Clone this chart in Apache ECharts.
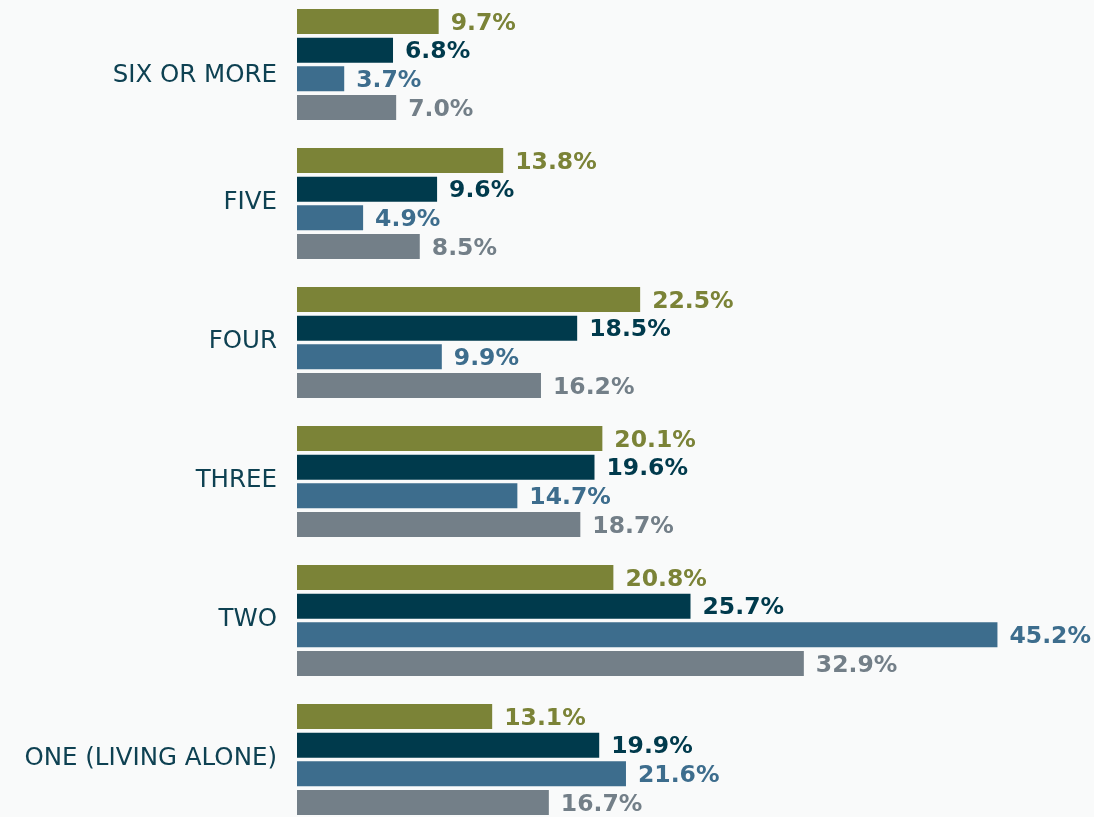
<!DOCTYPE html>
<html>
<head>
<meta charset="utf-8">
<script src="https://cdn.jsdelivr.net/npm/echarts@6/dist/echarts.min.js"></script>
<style>
html,body{margin:0;padding:0;background:#f9fafa;overflow:hidden;width:1094px;height:817px;}
#chart{position:absolute;left:0;top:-5px;width:1094px;height:834px;}
</style>
</head>
<body>
<div id="chart"></div>
<script>
// categories listed top to bottom
var categories = ['SIX OR MORE', 'FIVE', 'FOUR', 'THREE', 'TWO', 'ONE (LIVING ALONE)'];
var seriesA = [9.7, 13.8, 22.5, 20.1, 20.8, 13.1];   // olive
var seriesB = [6.8, 9.6, 18.5, 19.6, 25.7, 19.9];    // navy
var seriesC = [3.7, 4.9, 9.9, 14.7, 45.2, 21.6];     // blue
var seriesD = [7.0, 8.5, 16.2, 18.7, 32.9, 16.7];    // gray
var colors = ['#7b8337', '#003a4c', '#3d6d8d', '#737f88'];
var allSeries = [seriesA, seriesB, seriesC, seriesD];

var chart = echarts.init(document.getElementById('chart'));
var labelBase = {color: '#0e4152', fontSize: 24.5, fontFamily: 'DejaVu Sans'};
chart.setOption({
  backgroundColor: '#f9fafa',
  animation: false,
  grid: {left: 297, right: 21, top: 0, bottom: 0, containLabel: false},
  xAxis: {
    type: 'value', min: 0.7, max: 50,
    show: false
  },
  yAxis: {
    type: 'category', data: categories, inverse: true,
    axisLine: {show: false}, axisTick: {show: false}, splitLine: {show: false},
    axisLabel: {
      margin: 20, color: '#0e4152', fontSize: 24.5,
      fontFamily: 'DejaVu Sans', fontWeight: 'normal',
      formatter: function (v, i) {
        return i === 0 ? '{low|' + v + '}' : '{n|' + v + '}';
      },
      rich: {
        low: Object.assign({padding: [22, 0, 0, 0]}, labelBase),
        n: Object.assign({padding: [0, 0, 2, 0]}, labelBase)
      }
    }
  },
  series: allSeries.map(function (d, i) {
    return {
      type: 'bar', data: d, barGap: '15%', barCategoryGap: '20%',
      itemStyle: {color: colors[i]},
      label: {
        show: true, position: 'right', distance: 12, offset: [0, 2],
        color: colors[i], fontSize: 23.5, fontWeight: 'bold',
        fontFamily: 'DejaVu Sans',
        formatter: function (p) { return p.value.toFixed(1) + '%'; }
      }
    };
  })
});
</script>
</body>
</html>
